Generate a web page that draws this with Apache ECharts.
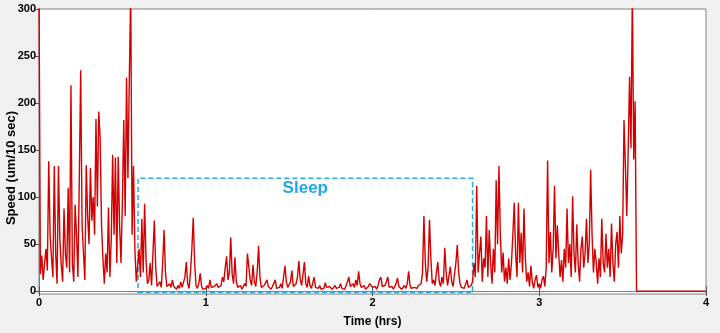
<!DOCTYPE html>
<html>
<head>
<meta charset="utf-8">
<script src="https://cdn.jsdelivr.net/npm/echarts@6/dist/echarts.min.js"></script>
<style>
  html, body { margin: 0; padding: 0; background: #f0f0f0; }
  #chart { width: 720px; height: 333px; }
</style>
</head>
<body>
<div id="chart"></div>
<script>
// one reading every 30 s (1/120 hr)
var STEP = 1 / 120;

// awake, t = 0 .. 0.583 hrs
var awake1 = [
  320, 18, 38, 12, 30, 45, 22, 138, 60, 35,
  15, 133, 40, 8, 133, 55, 28, 10, 88, 40,
  25, 110, 20, 219, 30, 10, 92, 60, 15, 120,
  235, 70, 40, 12, 134, 80, 50, 131, 75, 100,
  60, 183, 90, 191, 163, 70, 35, 8, 40, 20,
  89, 15, 55, 145, 60, 142, 30, 143, 70, 30,
  95, 182, 80, 227, 120, 227, 320, 60, 133, 45,
  10
];

// sleep, starts at index 71
var sleep = [
  10, 45, 15, 77, 20, 93, 35, 8, 12, 30,
  6, 4, 75, 25, 5, 3, 10, 4, 30, 65,
  20, 5, 3, 8, 4, 12, 5, 3, 2, 6,
  3, 10, 4, 6, 15, 31, 8, 3, 20, 45,
  78, 30, 6, 3, 8, 19, 5, 2, 4, 3,
  6, 3, 12, 4, 2, 5, 3, 8, 4, 2,
  6, 15, 10, 25, 37, 12, 20, 57, 18, 8,
  36, 10, 4, 3, 6, 2, 4, 8, 5, 40,
  40, 12, 6, 28, 10, 5, 20, 48, 15, 4,
  3, 6, 4, 12, 5, 3, 2, 5, 4, 12,
  3, 2, 4, 8, 3, 5, 27, 10, 4, 6,
  10, 22, 5, 3, 8, 15, 32, 12, 6, 18,
  31, 8, 4, 16, 6, 3, 5, 15, 4, 2,
  3, 6, 2, 4, 3, 9, 4, 2, 5, 3,
  2, 4, 6, 3, 2, 4, 8, 3, 5, 2,
  4, 10, 15, 5, 3, 8, 4, 12, 6, 21,
  8, 4, 3, 6, 2, 4, 5, 8, 10, 4,
  3, 5, 2, 6, 12, 15, 5, 3, 6, 10,
  15, 4, 3, 5, 2, 4, 8, 14, 5, 3,
  2, 4, 6, 3, 8, 21, 6, 3, 2, 4,
  5, 3, 6, 4, 8, 20, 80, 30, 10, 25,
  76, 35, 8, 12, 6, 20, 31, 10, 5, 15,
  8, 46, 20, 6, 4, 26, 10, 5, 18, 30,
  49, 20, 8, 4, 6, 3, 5, 12, 4, 3,
  6, 10
];

// awake again, starts at index 313
var awake2 = [
  30, 15, 112, 20, 40, 58, 10, 35, 25, 80,
  15, 65, 30, 8, 45, 20, 118, 50, 133, 60,
  20, 41, 10, 25, 8, 35, 12, 30, 60, 94,
  40, 15, 94, 30, 62, 20, 88, 35, 10, 20,
  5, 27, 10, 3, 12, 17, 4, 8, 3, 12,
  16, 5, 25, 139, 30, 63, 20, 45, 112, 35,
  70, 40, 15, 33, 10, 45, 25, 88, 30, 50,
  15, 101, 40, 20, 71, 30, 10, 45, 58, 25,
  40, 77, 30, 50, 129, 60, 20, 45, 31, 8,
  35, 15, 77, 30, 20, 61, 25, 45, 15, 72,
  30, 10, 50, 63, 25, 80, 40, 60, 182, 133,
  80, 150, 228, 152, 320, 140, 202, 0
];

// recording stopped
var tailTimes = [4];
var tailSpeeds = [0];

var xTicks = [0, 1, 2, 3, 4];
var yTicks = [0, 50, 100, 150, 200, 250, 300];
var sleepBox = {from: 0.594, to: 2.6, low: -1.5, high: 120};

var speeds = awake1.concat(sleep, awake2);
var data = speeds.map(function (v, i) { return [i * STEP, v]; });
tailTimes.forEach(function (t, i) { data.push([t, tailSpeeds[i]]); });

var chart = echarts.init(document.getElementById('chart'));
var lab = {color: '#000', fontWeight: 'bold', fontSize: 11, fontFamily: 'Liberation Sans, Arial, sans-serif'};
var frame = {show: true, lineStyle: {color: '#808080', width: 1}};

chart.setOption({
  animation: false,
  backgroundColor: '#f0f0f0',
  grid: {left: 39, right: 14, top: 9, bottom: 35, show: true, backgroundColor: '#fff', borderColor: '#808080', borderWidth: 1},
  xAxis: [{
    type: 'value', min: 0, max: 4, interval: 1,
    name: 'Time (hrs)', nameLocation: 'middle', nameGap: 22,
    nameTextStyle: {color: '#000', fontWeight: 'bold', fontSize: 12, fontFamily: 'Liberation Sans, Arial, sans-serif'},
    axisLine: frame, axisTick: {inside: true, length: 5, lineStyle: {color: '#555'}},
    axisLabel: Object.assign({margin: 3}, lab), splitLine: {show: false}
  }, {
    type: 'value', min: 0, max: 4, interval: 1, position: 'top',
    axisLine: frame, axisTick: {inside: true, length: 5, lineStyle: {color: '#555'}},
    axisLabel: {show: false}, splitLine: {show: false}
  }],
  yAxis: [{
    type: 'value', min: -3, max: 300,
    axisLine: frame,
    axisTick: {inside: false, length: 3, customValues: yTicks, lineStyle: {color: '#555'}},
    axisLabel: Object.assign({margin: 3, customValues: yTicks}, lab),
    splitLine: {show: false}
  }, {
    type: 'value', min: -3, max: 300, position: 'right',
    axisLine: frame,
    axisTick: {inside: true, length: 5, customValues: yTicks, lineStyle: {color: '#555'}},
    axisLabel: {show: false}, splitLine: {show: false}
  }],
  graphic: [{
    type: 'text', x: 11, y: 168, rotation: Math.PI / 2,
    style: {text: 'Speed (um/10 sec)', textAlign: 'center', textVerticalAlign: 'middle',
      fill: '#000', font: 'bold 13px Liberation Sans, Arial, sans-serif'}
  }],
  series: [{
    type: 'line', xAxisIndex: 0, yAxisIndex: 0,
    data: data, showSymbol: false, sampling: 'none', clip: true,
    lineStyle: {color: '#d40000', width: 1.4},
    itemStyle: {color: '#d40000'},
    markArea: {
      silent: true,
      itemStyle: {color: 'rgba(0,0,0,0)', borderColor: '#29abe2', borderWidth: 1.5, borderType: [5, 3]},
      label: {show: true, position: 'insideTop', distance: 2, color: '#1fa8e4', fontSize: 17, fontWeight: 'bold', fontFamily: 'Liberation Sans, Arial, sans-serif'},
      data: [[{name: 'Sleep', xAxis: sleepBox.from, yAxis: sleepBox.low}, {xAxis: sleepBox.to, yAxis: sleepBox.high}]]
    }
  }]
});
</script>
</body>
</html>
